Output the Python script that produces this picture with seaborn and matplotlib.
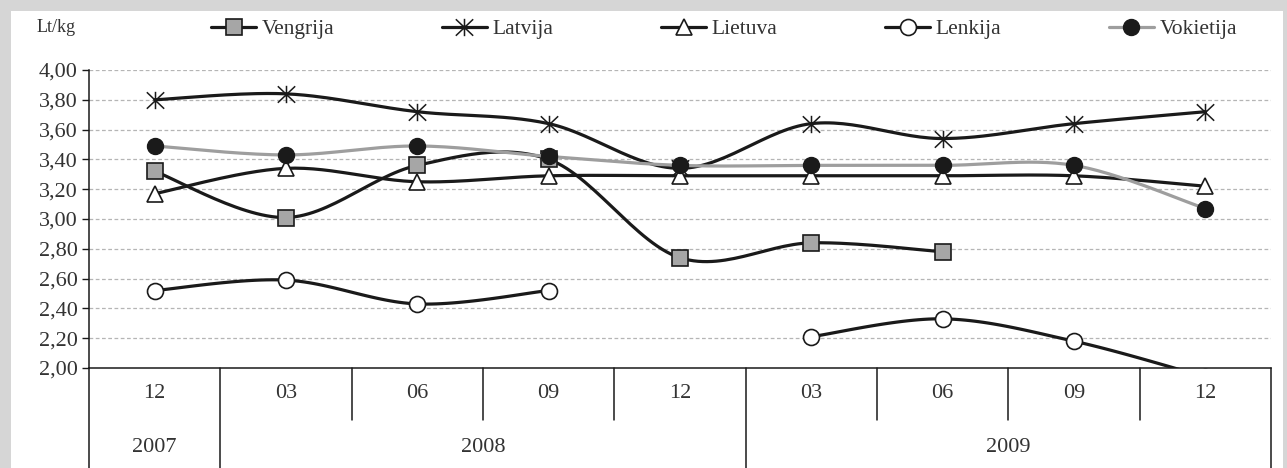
import numpy as np
import matplotlib
matplotlib.use("Agg")
import matplotlib.pyplot as plt
import seaborn as sns
from matplotlib.lines import Line2D
from matplotlib.path import Path
from matplotlib.patches import Rectangle
from matplotlib.ticker import FuncFormatter

nan = np.nan

# data (Lt/kg)
months = ["12", "03", "06", "09", "12", "03", "06", "09", "12"]
years = ["2007", "2008", "2009"]
year_spans = [(0, 0), (1, 4), (5, 8)]  # first and last month index of each year

vengrija = [3.32, 3.01, 3.36, 3.40, 2.74, 2.84, 2.78, nan, nan]
latvija = [3.80, 3.84, 3.72, 3.64, 3.34, 3.64, 3.54, 3.64, 3.72]
lietuva = [3.17, 3.34, 3.25, 3.29, 3.29, 3.29, 3.29, 3.29, 3.22]
lenkija = [2.52, 2.59, 2.43, 2.52, nan, 2.21, 2.33, 2.18, 1.94]
vokietija = [3.49, 3.43, 3.49, 3.42, 3.36, 3.36, 3.36, 3.36, 3.07]

yticks = [2.0, 2.2, 2.4, 2.6, 2.8, 3.0, 3.2, 3.4, 3.6, 3.8, 4.0]

# asterisk-like marker: vertical bar plus an X
star = Path(
    [(0, -1), (0, 1), (-1, -0.95), (1, 0.95), (-1, 0.95), (1, -0.95)],
    [Path.MOVETO, Path.LINETO] * 3,
)

ink = "#1a1a1a"
series = [
    ("Vengrija", vengrija, ink, dict(marker="s", ms=11.5, mfc="#a6a6a6", mec=ink, mew=1.2)),
    ("Latvija", latvija, ink, dict(marker=star, ms=12.5, mfc="none", mec=ink, mew=1.1)),
    ("Lietuva", lietuva, ink, dict(marker="^", ms=11, mfc="white", mec=ink, mew=1.2)),
    ("Lenkija", lenkija, ink, dict(marker="o", ms=11.5, mfc="white", mec=ink, mew=1.2)),
    ("Vokietija", vokietija, "#9e9e9e", dict(marker="o", ms=11.5, mfc=ink, mec=ink, mew=1.0)),
]


def smooth_runs(vals, n=30):
    """Split a series at gaps and return Excel-like smoothed curves for each run."""
    x = np.arange(len(vals), dtype=float)
    y = np.asarray(vals, dtype=float)
    ok = ~np.isnan(y)
    runs, cur = [], []
    for i in range(len(y)):
        if ok[i]:
            cur.append(i)
        elif cur:
            runs.append(cur)
            cur = []
    if cur:
        runs.append(cur)
    out = []
    for r in runs:
        pts = np.column_stack([x[r], y[r]])
        if len(pts) < 2:
            continue
        curve = []
        t = np.linspace(0, 1, n)[:, None]
        for i in range(len(pts) - 1):
            p0 = pts[max(i - 1, 0)]
            p1 = pts[i]
            p2 = pts[i + 1]
            p3 = pts[min(i + 2, len(pts) - 1)]
            c1 = p1 + (p2 - p0) / 6
            c2 = p2 - (p3 - p1) / 6
            b = ((1 - t) ** 3) * p1 + 3 * ((1 - t) ** 2) * t * c1 + 3 * (1 - t) * t ** 2 * c2 + t ** 3 * p2
            curve.append(b if i == 0 else b[1:])
        out.append(np.vstack(curve))
    return out


sns.set_theme(style="white")
plt.rcParams["font.family"] = ["Liberation Serif", "DejaVu Serif"]

fig = plt.figure(figsize=(12.87, 4.68), dpi=100)
fig.patch.set_facecolor("#d6d6d6")
fig.add_artist(Rectangle((11 / 1287, 0), (1283 - 11) / 1287, (468 - 11) / 468,
                         transform=fig.transFigure, facecolor="white", edgecolor="none", zorder=0))

ax = fig.add_axes([89 / 1287, 100 / 468, (1271 - 89) / 1287, 298 / 468])
ax.set_facecolor("none")

handles = []
for k, (name, vals, lc, mk) in enumerate(series):
    for c in smooth_runs(vals):
        sns.lineplot(x=c[:, 0], y=c[:, 1], sort=False, estimator=None, ax=ax,
                     color=lc, linewidth=2.3, zorder=3 + 2 * k)
    ax.plot(np.arange(len(vals)), vals, linestyle="none", zorder=4 + 2 * k, **mk)
    handles.append(Line2D([], [], color=lc, linewidth=2.3, label=name, **mk))

ax.set_xlim(-0.5, len(months) - 0.5)
ax.set_ylim(2.0, 4.0)
ax.set_yticks(yticks)
ax.yaxis.set_major_formatter(FuncFormatter(lambda v, p: f"{v:.2f}".replace(".", ",")))
ax.set_xticks([])
ax.grid(False)
for v in yticks[1:]:
    ax.axhline(v, color="#b5b5b5", linewidth=0.9, linestyle=(0, (3, 2)), zorder=1)

for s in ["top", "right"]:
    ax.spines[s].set_visible(False)
for s in ["left", "bottom"]:
    ax.spines[s].set_color(ink)
    ax.spines[s].set_linewidth(1.1)
ax.tick_params(axis="y", which="major", left=True, length=5, width=1.0, color=ink,
               labelsize=16, labelcolor="#333333", pad=3)

# category table below the axis
tr = ax.get_xaxis_transform()
month_bottom = -52 / 298
table_bottom = -101 / 298
year_edges = [-0.5] + [e + 0.5 for _, e in year_spans]
for b in np.arange(-0.5, len(months), 1.0):
    y0 = table_bottom if b in year_edges else month_bottom
    ax.plot([b, b], [0, y0], transform=tr, color=ink, linewidth=1.1, clip_on=False)
for i, m in enumerate(months):
    ax.text(i, -25 / 298, m, transform=tr, ha="center", va="center", fontsize=16, color="#333333")
for yr, (a, b) in zip(years, year_spans):
    ax.text((a + b) / 2, -79 / 298, yr, transform=tr, ha="center", va="center",
            fontsize=16, color="#333333")

fig.text(37 / 1287, 1 - 28 / 468, "Lt/kg", ha="left", va="center", fontsize=13, color="#333333")

fig.legend(handles=handles, loc="center left", bbox_to_anchor=(211 / 1287, 1 - 29 / 468),
           ncol=5, frameon=False, borderpad=0, borderaxespad=0, handlelength=2.1,
           handletextpad=0.25, columnspacing=5.0, fontsize=15.5, labelcolor="#333333")

fig.savefig("out.png", dpi=100, facecolor=fig.get_facecolor())
